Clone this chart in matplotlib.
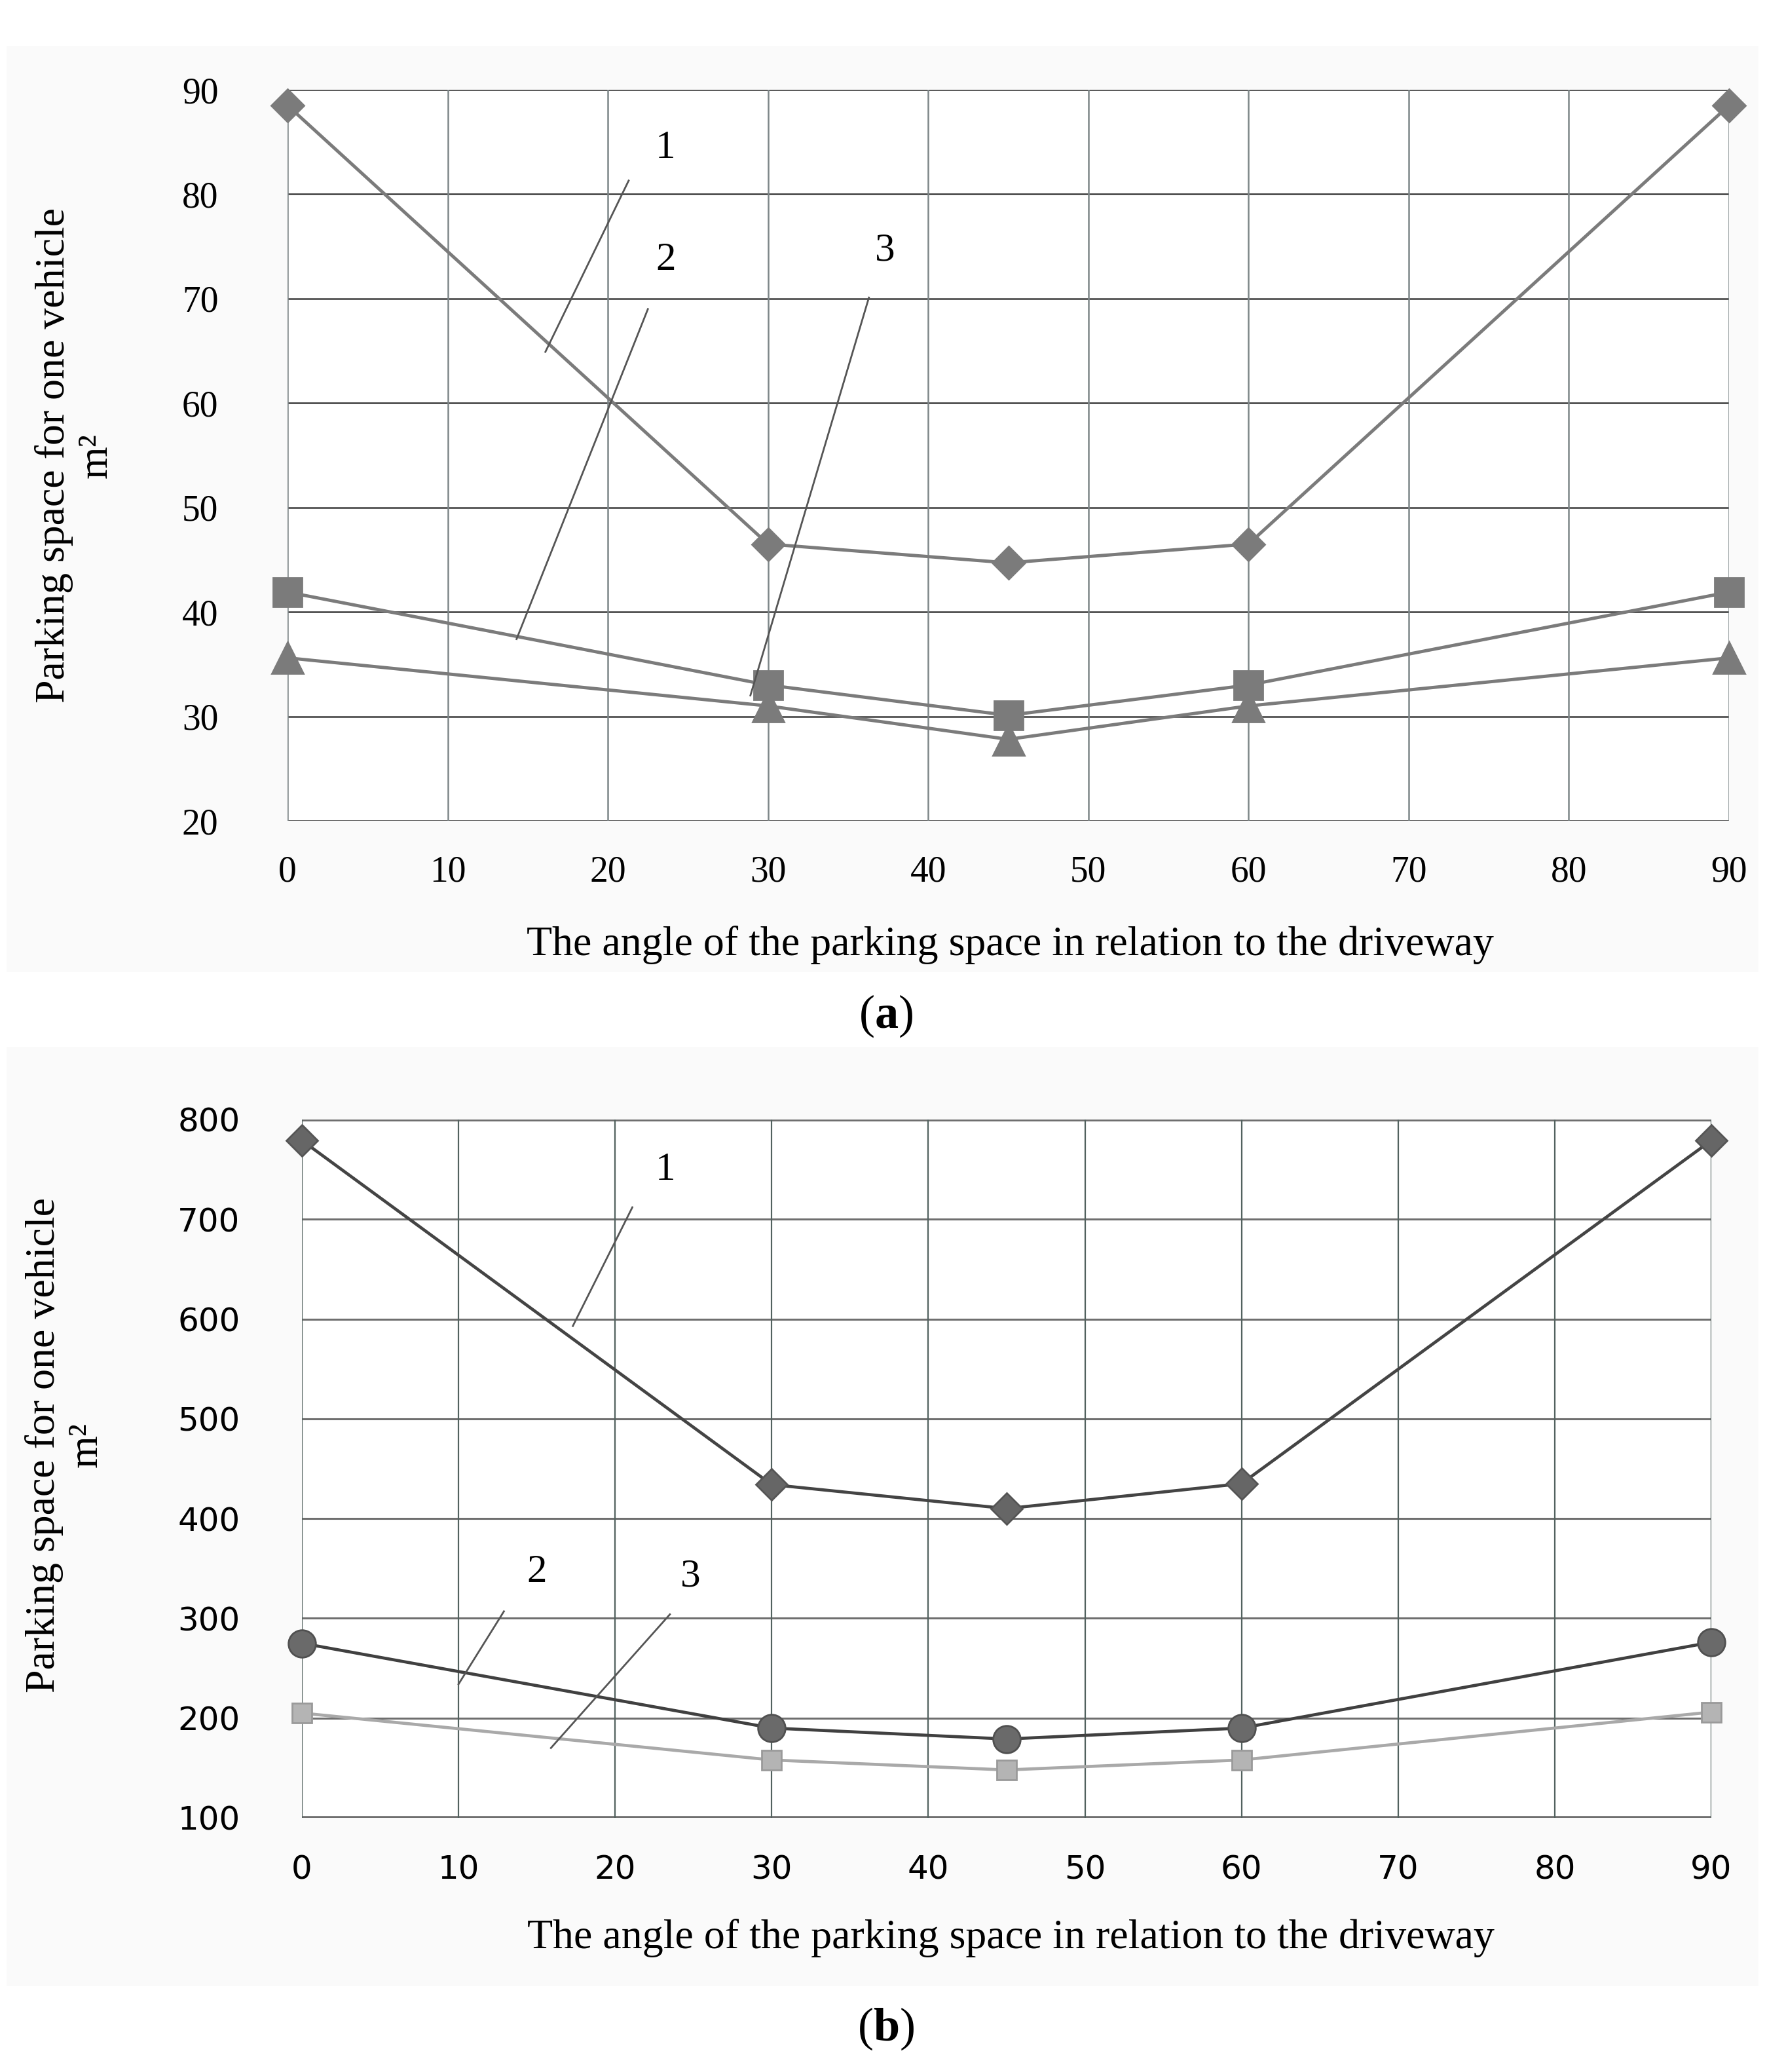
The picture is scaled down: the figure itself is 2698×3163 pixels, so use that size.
import matplotlib
matplotlib.use("Agg")
import matplotlib.pyplot as plt
from matplotlib.patches import Rectangle

plt.rcParams['font.family'] = ['Liberation Serif', 'DejaVu Serif']
plt.rcParams['mathtext.fontset'] = 'custom'
plt.rcParams['mathtext.bf'] = 'Liberation Serif:bold'
plt.rcParams['mathtext.rm'] = 'Liberation Serif'

# angle of the parking space (degrees)
angles = [0, 30, 45, 60, 90]

# (a) parking space for one vehicle, m2
a_line1 = [88.5, 46.5, 44.7, 46.5, 88.5]
a_line2 = [41.9, 33.0, 30.1, 33.0, 41.9]
a_line3 = [35.6, 31.0, 27.8, 31.0, 35.6]

# (b) parking space for one vehicle, m2
b_line1 = [779, 434, 410, 435, 779]
b_line2 = [275, 190, 179, 190, 276]
b_line3 = [205, 158, 148, 158, 206]

x_ticks = [0, 10, 20, 30, 40, 50, 60, 70, 80, 90]
a_yticks = [20, 30, 40, 50, 60, 70, 80, 90]
b_yticks = [100, 200, 300, 400, 500, 600, 700, 800]

xlabel = 'The angle of the parking space in relation to the driveway'
ylabel = 'Parking space for one vehicle\nm\u00b2'

W, H = 2698, 3163
fig = plt.figure(figsize=(W / 200, H / 200), dpi=200)

# light grey chart areas
for (x0, y0, x1, y1) in [(10, 70, 2685, 1484), (10, 1598, 2685, 3032)]:
    fig.patches.append(Rectangle((x0 / W, 1 - y1 / H), (x1 - x0) / W, (y1 - y0) / H,
                                 transform=fig.transFigure, facecolor='#fafafa',
                                 edgecolor='none', zorder=-10))

# ---------------- chart (a) ----------------
ax1 = fig.add_axes([439 / W, 1 - 1253 / H, (2640 - 439) / W, (1253 - 137) / H])
ax1.set_facecolor('white')
ax1.set_xlim(0, 90)
ax1.set_ylim(20, 90)
ax1.set_xticks(x_ticks)
ax1.set_yticks(a_yticks)
for y in a_yticks:
    ax1.axhline(y, color='#3c3c3c', lw=0.9, zorder=1)
for x in x_ticks:
    ax1.axvline(x, color='#7d8688', lw=0.9, zorder=1)
for s in ax1.spines.values():
    s.set_visible(False)
ax1.tick_params(length=0, labelsize=20, pad=19)
ax1.tick_params(axis='y', pad=38)

grey = '#7b7b7b'
ax1.plot(angles, a_line1, color=grey, lw=1.8, marker='D', ms=12.5, zorder=3, clip_on=False)
ax1.plot(angles, a_line2, color=grey, lw=1.8, marker='s', ms=16, zorder=3, clip_on=False)
ax1.plot(angles, a_line3, color=grey, lw=1.8, marker='^', ms=17, zorder=3, clip_on=False)

# leader lines with numbers
for (lab, tx, ty, x0, y0, x1, y1) in [('1', 23.6, 84.4, 21.3, 81.3, 16.1, 64.9),
                                      ('2', 23.6, 73.7, 22.5, 69.0, 14.3, 37.4),
                                      ('3', 37.3, 74.6, 36.3, 70.1, 28.9, 32.0)]:
    ax1.plot([x0, x1], [y0, y1], color='#555555', lw=1.0, zorder=4)
    ax1.text(tx, ty, lab, fontsize=22, ha='center', va='center', zorder=5)

fig.text(1542 / W, 1 - 1443 / H, xlabel, fontsize=23, ha='center', va='center')
fig.text(115 / W, 1 - 695 / H, ylabel, fontsize=23, ha='center', va='center',
         rotation=90, multialignment='center', linespacing=1.15)
fig.text(1353 / W, 1 - 1551 / H, r'($\mathbf{a}$)', fontsize=26, ha='center', va='center')

# ---------------- chart (b) ----------------
ax2 = fig.add_axes([461 / W, 1 - 2775 / H, (2613 - 461) / W, (2775 - 1709) / H])
ax2.set_facecolor('white')
ax2.set_xlim(0, 90)
ax2.set_ylim(100, 800)
ax2.set_xticks(x_ticks)
ax2.set_yticks(b_yticks)
for y in b_yticks:
    lw = 2.0 if y in (100, 800) else 1.1
    ax2.axhline(y, color='#6f6f6f', lw=lw, zorder=1)
for x in x_ticks:
    ax2.axvline(x, color='#52625f', lw=0.8, zorder=1)
for s in ax2.spines.values():
    s.set_visible(False)
ax2.tick_params(length=0, labelsize=18, pad=20)
ax2.tick_params(axis='y', pad=34)
for lbl in ax2.get_xticklabels() + ax2.get_yticklabels():
    lbl.set_family('DejaVu Sans')

ax2.plot(angles, b_line1, color='#444444', lw=1.7, marker='D', ms=12, clip_on=False,
         markerfacecolor='#666666', markeredgecolor='#555555', zorder=3)
ax2.plot(angles, b_line2, color='#404040', lw=1.7, marker='o', ms=15, clip_on=False,
         markerfacecolor='#6a6a6a', markeredgecolor='#505050', zorder=3)
ax2.plot(angles, b_line3, color='#a9a9a9', lw=1.7, marker='s', ms=11, clip_on=False,
         markerfacecolor='#b4b4b4', markeredgecolor='#9a9a9a', zorder=3)

for (lab, tx, ty, x0, y0, x1, y1) in [('1', 23.2, 749, 21.1, 712, 17.3, 593),
                                      ('2', 15.0, 346, 12.9, 307, 10.0, 234),
                                      ('3', 24.8, 342, 23.5, 304, 15.9, 170)]:
    ax2.plot([x0, x1], [y0, y1], color='#555555', lw=1.0, zorder=4)
    ax2.text(tx, ty, lab, fontsize=22, ha='center', va='center', zorder=5)

fig.text(1543 / W, 1 - 2958 / H, xlabel, fontsize=23, ha='center', va='center')
fig.text(100 / W, 1 - 2206 / H, ylabel, fontsize=23, ha='center', va='center',
         rotation=90, multialignment='center', linespacing=1.15)
fig.text(1353 / W, 1 - 3097 / H, r'($\mathbf{b}$)', fontsize=26, ha='center', va='center')

fig.savefig('out.png', dpi=200, facecolor='white')
